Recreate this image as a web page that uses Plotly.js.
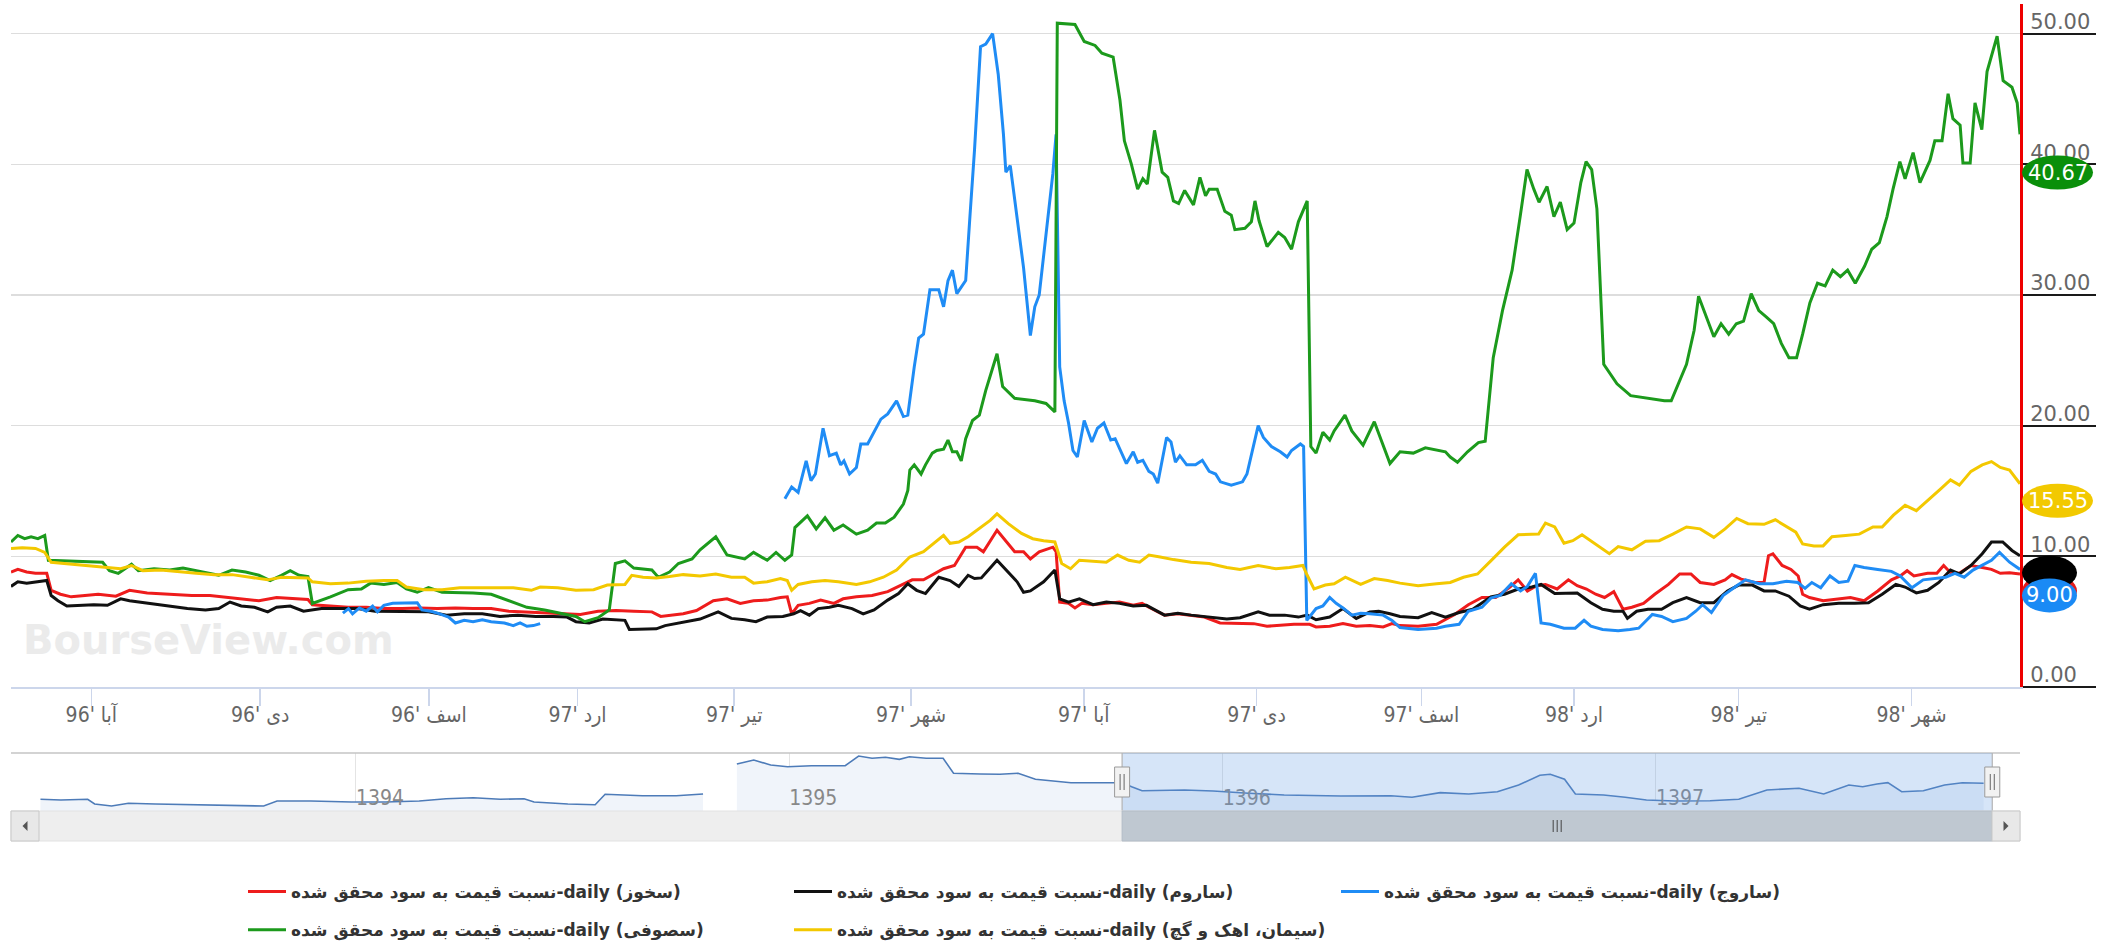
<!DOCTYPE html>
<html>
<head>
<meta charset="utf-8">
<script src="https://cdn.plot.ly/plotly-3.0.1.min.js"></script>
<style>
  html, body { margin: 0; padding: 0; background: #ffffff; }
  #chart { width: 2113px; height: 942px; }
</style>
</head>
<body>
<div id="chart"></div>
<script>
// ---- P/E (price to realized earnings), daily, by trading session ----
const sessionTicks = [20, 62, 104, 141, 180, 224, 267, 310, 351, 389, 430, 473];
const sessionTickText = ["آبا '96", "دی '96", "اسف '96", "ارد '97", "تیر '97", "شهر '97",
                         "آبا '97", "دی '97", "اسف '97", "ارد '98", "تیر '98", "شهر '98"];
const valueTicks = [0, 10, 20, 30, 40, 50];

const seriesNames = {
  red: "نسبت قیمت به سود محقق شده-daily (سخوز)",
  black: "نسبت قیمت به سود محقق شده-daily (ساروم)",
  blue: "نسبت قیمت به سود محقق شده-daily (ساروج)",
  green: "نسبت قیمت به سود محقق شده-daily (سصوفی)",
  yellow: "نسبت قیمت به سود محقق شده-daily (سیمان، اهک و گچ)"
};

const redDay = [0,1.7,3.9,6.1,8.9,10,12.3,15,18.4,21.7,26.1,29.5,33.9,37.3,41.7,45,49.5,52.8,57.3,61.7,66.1,70.6,73.9,75,79.5,83.9,88.4,92.8,97.3,101.7,106.1,110.6,115,119.5,123.9,128.4,132.8,137.2,141.7,146.1,150.6,155,159.5,161.7,163.9,167.3,170.6,174.8,178.2,181.5,184.8,188.2,191.5,193.2,194.3,195.9,198.7,201.5,204.8,207.1,210.4,214.3,218.2,221.5,224.3,227.1,229.3,232.1,234.8,237.6,240.4,242,245.4,247.6,249.8,252,253.7,255.9,259.3,260.1,261,263.2,264.8,266.5,269.3,272.6,275.9,279.3,281.5,283.2,287.1,290.4,293.7,297,300.9,304.8,309.3,312.6,315.9,319.3,323.2,324.8,328.2,331.5,334.8,338.2,341.5,343.7,345.7,350.2,354.8,359.3,362.7,366.1,369.5,372.9,375.1,377.4,379.7,381.9,384.8,387.6,389.8,392.1,394.4,396.6,398.9,401.2,403.4,406.3,409.1,412.5,415.3,418.1,420.4,423.8,426.6,428.3,430.6,434,436.3,437.4,438.5,440.8,443,444.8,445.9,447.6,451,454.4,457.8,461.2,464.6,468,470.2,471.9,473.6,477,479.3,481,482.7,484.9,487.8,490.6,492.9,495.1,497.4,500];
const redVal = [8.8,9,8.8,8.7,8.7,7.4,7.1,6.9,7,7.1,6.95,7.4,7.2,7.15,7.1,7,7,6.9,6.75,6.6,6.85,6.75,6.7,6.3,6.2,6.1,6.1,6,6,6.05,6,6.05,6,6,5.8,5.75,5.65,5.6,5.55,5.8,5.85,5.8,5.75,5.4,5.5,5.6,5.85,6.6,6.75,6.4,6.6,6.65,6.85,6.9,5.6,6.25,6.4,6.65,6.4,6.75,6.9,7,7.3,7.8,8.2,8.2,8.55,9.05,9.3,10.7,10.7,10.35,12,11.2,10.35,10.35,9.8,10.35,10.7,10.35,6.5,6.4,6.05,6.4,6.3,6.4,6.5,6.25,6.4,6.1,5.5,5.6,5.5,5.35,4.9,4.9,4.85,4.65,4.7,4.8,4.8,4.6,4.65,4.85,4.65,4.7,4.6,4.85,4.7,4.65,4.8,5.55,6.3,6.85,6.85,7.6,8.2,7.35,7.75,7.85,7.5,8.2,7.75,7.5,7.1,6.85,7.3,5.95,6.1,6.4,7.1,7.85,8.65,8.65,8,7.85,8.2,8.6,8.25,8,8,10.05,10.2,9.3,9,8.5,7.1,6.85,6.6,6.7,6.85,6.6,7.35,8.2,8.5,8.9,8.5,8.7,8.7,9.3,8.75,8.7,9.3,9.15,9,8.7,8.75,8.65];

const blackDay = [0,1.7,3.9,6.1,8.9,10,11.7,13.9,17.3,20.6,24,27.3,29.5,32.8,36.2,39.5,43.9,48.4,51.7,54.5,57.3,60.6,63.9,66.1,69.5,72.8,77.3,81.7,86.2,90.6,95,99.5,103.9,108.4,112.8,117.3,121.7,126.1,130.6,135,138.4,140.6,143.9,147.3,150.6,152.8,153.9,157.3,160.6,162.8,166.1,169.5,171.5,176,179.3,182.6,185.4,188.2,192.1,194.8,196.5,198.7,200.9,203.7,205.9,209.3,212.1,214.8,218.2,220.9,223.2,225.4,227.6,230.9,233.7,235.9,238.2,239.8,241.5,245.4,248.2,250.4,252,253.7,257,259.8,261,263.2,265.9,269.3,272.6,275.9,279.3,282.6,287.1,290.4,293.7,298.2,302.6,305.9,310.4,313.2,317,320.4,322.6,324.8,328.2,331.5,334.8,338.2,340.4,343.2,345.7,350.2,353.6,357,360.4,363.8,368.3,371.7,375.1,378.5,380.8,384.2,387.6,389.8,393.2,396.1,398.9,401.2,402.3,404.6,407.4,410.8,413.6,417,420.4,423.8,427.2,430,433.4,436.3,439.1,442.5,445.3,447.6,451,454.9,458.9,462.3,465.7,469.1,471.4,474.2,477,479.8,482.7,484.9,487.8,490.6,492.9,495.7,498,500];
const blackVal = [7.7,8.05,7.95,8.05,8.15,7,6.6,6.2,6.25,6.3,6.25,6.75,6.6,6.45,6.3,6.2,6,5.9,6,6.5,6.2,6.1,5.75,6.1,6.2,5.8,6,6,6,5.8,5.8,5.75,5.75,5.5,5.6,5.6,5.4,5.5,5.4,5.4,5.35,5,4.9,5.2,5.15,5.1,4.4,4.45,4.45,4.7,4.9,5.1,5.2,5.75,5.25,5.15,5,5.35,5.4,5.6,5.85,5.5,6,6.1,6.25,6,5.6,5.9,6.65,7.15,7.9,7.4,7.15,8.4,8.15,7.7,8.55,8.3,8.35,9.7,8.8,8.05,7.25,7.35,8.05,8.95,6.75,6.5,6.75,6.3,6.5,6.4,6.2,6.25,5.5,5.65,5.5,5.35,5.2,5.3,5.75,5.5,5.5,5.35,5.5,5.15,5.35,6,5.25,5.75,5.8,5.6,5.4,5.3,5.7,5.35,5.7,5.95,6.9,7.1,7.5,7.65,7.85,7.15,7.15,7.2,6.45,5.95,5.8,5.8,5.25,5.8,5.95,5.95,6.45,6.85,6.45,6.45,7.35,7.8,7.8,7.35,7.35,6.95,6.2,5.95,6.3,6.4,6.4,6.45,7.1,7.85,7.65,7.2,7.4,8,8.95,8.65,9.3,10.2,11.1,11.1,10.45,10.05];

const blueDay = [82.6,84,85,86.7,88.4,90,91.2,92.8,95,98.4,101.1,102.3,104.5,106.7,108.9,110.6,112.8,115,117.3,119.5,122.8,125,126.7,128.4,130,131.7,160,192.6,194.3,195.9,197.9,199.1,200.2,202.1,203.7,205.4,206.5,207.3,208.7,210.4,211.5,213.2,214.8,216.5,218.2,220.4,222.1,223.2,224.8,225.9,227.1,228.7,230.9,232.1,233.2,234.3,235.4,237.6,238.7,239.8,241.3,242.6,244.3,245.7,247,247.6,248.7,250.4,252,253.7,254.8,255.9,257.6,259.3,260.1,261,262.1,263.2,264.3,265.4,267.1,269,270.4,272,273.7,274.8,277.6,279.3,280.4,281.7,283.2,284.3,285.4,287.6,288.7,289.8,290.9,292.6,294.8,296.5,298.2,299.8,301,303.7,306.5,307.6,310.4,311.7,313.7,315.9,317.6,318.7,320.9,321.7,322.5,324.8,326.5,328.2,329.8,331.5,333.7,335.9,338.2,341.5,343.7,345.7,350.2,354.8,357,360.4,362.7,366.1,368.3,370.6,373.4,375.7,377.4,379.4,380.8,383.1,386.5,389.3,391.5,393.2,396.1,400,402.9,405.1,408.5,410.8,413.6,417,419.3,421,423.2,426.1,429.5,431.7,435.1,438.5,441.9,444.7,446.5,448.2,450.4,452.7,454.9,457.2,458.9,461.2,464.6,468,470.2,473.1,475.9,478.7,481.5,483.8,486.1,488.3,490.6,492.9,494.9,497.4,500];
const blueVal = [5.65,6,5.6,6.05,5.8,6.2,5.75,6.25,6.4,6.4,6.45,5.9,5.8,5.6,5.35,4.9,5.1,5,5.15,5,4.9,4.7,4.9,4.65,4.7,4.85,null,14.4,15.3,14.9,17.3,15.8,16.3,19.8,17.7,17.9,17,17.3,16.3,16.8,18.6,18.6,19.5,20.5,20.9,21.9,20.7,20.8,24.5,26.7,27,30.4,30.4,29.1,31.1,31.9,30.1,31.1,36.2,41.1,49,49.2,50,46.9,42.3,39.4,39.9,36,32.1,26.9,29.1,30,34.7,39.3,42.3,24.5,21.9,20.2,18.1,17.6,20.4,18.75,19.8,20.2,18.9,19,17.1,18,17.2,17.35,16.5,16.3,15.6,19.1,18.75,17.2,17.7,17,17,17.35,16.5,16.3,15.7,15.45,15.7,16.3,20,19.1,18.4,18,17.6,18.1,18.6,18.4,5.1,6,6.2,6.85,6.4,6.05,5.5,5.65,5.6,5.5,5.1,4.55,4.4,4.5,4.65,4.8,5.8,6.1,6.8,7,7.9,7.35,7.7,8.7,4.9,4.8,4.5,4.5,5.1,4.65,4.4,4.3,4.4,4.5,5.55,5.4,5,5.25,5.8,6.3,5.7,7,7.75,8.2,7.9,7.9,8.1,8,7.55,8,7.6,8.5,8,8.1,9.3,9.15,9,8.85,8.5,7.6,8.2,8.3,8.4,8.7,8.4,8.95,9.3,9.7,10.3,9.55,9];

const greenDay = [0,1.7,3.4,5,6.7,8.4,9.3,14,22.8,24.5,26.7,30,31.7,35.6,39.5,42.8,46.1,51.7,55,58.4,61.7,64.5,67.3,69.5,71.7,73.9,75,79.5,83.9,87.2,89.5,92.8,96.1,98.4,101.1,103.9,107.3,111.7,115,119.5,123.9,128.4,132.8,137.2,140.6,142.8,146.1,148.9,150.4,152.8,155,159.5,161.1,163.9,166.1,169.5,171.5,175.4,178.2,182.6,184.8,188.2,190.4,192.6,194.3,195.1,198.2,200.4,202.6,204.8,207.1,210.4,213.2,215.4,217.6,219.8,222.1,223.2,223.7,224.8,226.5,227.6,229.3,230.4,232.1,233.2,234.3,235.4,236.5,237.6,239.3,241,242.6,245.4,246.8,249.8,254.8,257.6,259.8,260.4,264.8,267.1,269.8,271.5,274.3,276,277.1,278.8,280.4,281.7,282.8,284.6,286.5,287.9,289.3,290.6,292.1,294.3,295.9,297.3,298.2,300.2,302.1,303.7,304.6,307.1,308.7,309.6,310.6,312.6,315.4,317,318.7,320.4,322.6,323.5,324.8,326.5,328.2,329.3,332,333.7,336.5,339.3,343.2,345.7,349,352,355,357,358.2,360,362.5,365.2,366.9,368.9,371.2,373.6,375.6,377.3,379,380.3,382.3,384,385.6,387.3,389,390.7,392,393.4,394.7,396.4,399.7,403.1,411.5,413.2,417,418.9,420,421.9,423.8,425.6,427.5,429.4,431.2,433.1,435,436.9,438.7,440.6,442.5,444.4,445.9,447.7,449.6,451.5,453.4,455.3,457.1,459,461.3,463.1,465,466.9,468.4,470.1,471.4,473.4,475.1,477.6,478.8,480.6,482.1,483.3,485.1,485.8,487.6,488.8,490.5,491.8,494.3,495.8,498,499.3,500];
const greenVal = [11.1,11.6,11.35,11.5,11.35,11.6,9.7,9.65,9.55,8.9,8.7,9.4,8.9,9.05,8.95,9.1,8.9,8.55,8.95,8.8,8.55,8.15,8.55,8.9,8.55,8.45,6.4,6.9,7.45,7.5,7.95,7.85,8,7.5,7.25,7.6,7.25,7.25,7.2,7.1,6.6,6.1,5.9,5.65,5.4,5,5.3,5.9,9.45,9.65,9.1,8.95,8.4,8.8,9.45,9.8,10.5,11.5,10.1,9.8,10.3,9.7,10.3,9.7,10.1,12.2,13.1,12.1,12.95,12,12.4,11.7,12,12.55,12.55,13,14,15.05,16.6,17,16.3,17,17.9,18.1,18.2,18.9,18,18,17.3,19,20.4,20.8,22.7,25.5,23,22.1,21.9,21.7,21.05,50.8,50.7,49.4,49.1,48.5,48.2,44.9,41.8,40.05,38.1,38.9,38.5,42.6,39.4,39,37.2,37,38,36.9,39,37.6,38.1,38.1,36.4,36.1,35,35.1,35.6,37.2,35.7,33.7,34.8,34.4,33.5,35.6,37.2,18.4,17.9,19.5,18.9,19.6,20.8,19.6,18.5,20.3,17.1,18,17.9,18.3,18.1,18,17.6,17.2,18,18.7,18.8,25.2,28.8,31.9,36,39.6,38.1,37.1,38.3,36,37.1,35,35.5,38.6,40.2,39.6,36.6,24.7,23.2,22.3,21.9,21.9,24.7,27.3,29.9,28.3,26.8,27.8,27,27.8,28,30.1,28.8,28.3,27.8,26.3,25.2,25.2,27,29.4,30.9,30.7,31.9,31.4,31.9,30.9,32.2,33.5,34,36,38.1,40.2,38.9,40.9,38.6,40.3,41.8,41.8,45.4,43.5,43,40.1,40.1,44.7,42.65,47.1,49.8,46.4,45.9,44.7,42.3,40.67];

const yellowDay = [0,2.8,6.1,8.4,10,13.9,19.5,24,27.3,30,32.8,37.3,41.7,46.1,50.6,55,59.5,63.9,67.3,69.5,73.9,75,79.5,83.9,88.4,92.8,96.1,98.4,102.8,107.3,111.7,116.2,120.6,125,129.5,131.7,136.1,140.6,145,148.4,152.8,154.5,157.3,160.6,163.9,167.3,171.5,175.4,179.3,182.6,184.8,188.2,191.5,193.2,194.3,195.9,199.3,202.6,205.9,210.4,213.7,217.1,220.4,223.7,227.1,229.8,232.1,233.7,235.9,238.2,241.5,243.7,245.4,248.2,251.5,254.3,257,259.8,261.5,263.7,265.9,269.3,272.6,275.4,278.2,280.9,283.2,286,289.3,293.7,298.2,302.6,305.9,310.4,314.8,318.2,321.5,322.6,324.3,327.1,329.3,332.1,333.7,335.9,339.3,342.6,345.7,350.2,354.8,358.2,361.5,365,368.3,371.7,375.1,378.5,380.2,381.9,384.2,386.5,388.7,391,393.2,396.1,397.8,400,403.4,406.8,410.2,413.6,417,420.4,423.8,426.6,429.5,432.3,436.3,439.1,441.9,444.2,445.9,448.7,451,453.2,456.6,460,463.4,465.7,468.5,471.4,474.2,477.6,480.4,482.7,484.9,487.8,490.6,492.9,495.1,497.4,500];
const yellowVal = [10.6,10.65,10.6,10.3,9.55,9.45,9.3,9.15,9.05,9.3,8.9,8.95,8.8,8.7,8.6,8.6,8.4,8.2,8.4,8.4,8.35,8.05,7.9,7.95,8.1,8.15,8.15,7.65,7.45,7.45,7.6,7.6,7.6,7.6,7.4,7.65,7.6,7.4,7.45,7.8,7.85,8.55,8.4,8.35,8.45,8.6,8.5,8.65,8.4,8.4,7.95,8.05,8.3,8.15,7.4,7.85,8.05,8.15,8.05,7.85,8.05,8.4,8.95,9.95,10.35,11,11.6,11,11.1,11.5,12.25,12.75,13.25,12.5,11.75,11.35,11.2,11.1,9.45,9.05,9.7,9.65,9.55,10.1,9.7,9.55,10.1,9.95,9.75,9.55,9.45,9.15,9,9.3,9.05,9.15,9.3,8.55,7.5,7.8,7.9,8.4,8.15,7.85,8.3,8.15,7.95,7.75,7.9,8,8.4,8.65,9.65,10.7,11.65,11.7,11.7,12.55,12.25,11,11.2,11.65,11.2,10.55,10.2,10.75,10.5,11.15,11.2,11.7,12.25,12.1,11.45,12.1,12.9,12.5,12.45,12.8,12.25,11.85,10.95,10.8,10.8,11.5,11.6,11.7,12.25,12.25,13.15,13.9,13.5,14.4,15.2,15.85,15.45,16.5,17,17.25,16.8,16.6,15.55];

// ---- navigator: whole history, in years (two separate runs of data) ----
const navYearA = [1393.272,1393.319,1393.381,1393.397,1393.436,1393.475,1393.537,1393.647,1393.740,1393.787,1393.818,1393.896,1393.990,1394.068,1394.146,1394.208,1394.271,1394.333,1394.388,1394.411,1394.489,1394.552,1394.575,1394.661,1394.739,1394.801];
const navLevelA = [20.2,19.0,20.2,12.1,8.6,13.3,12.1,10.3,8.6,8.6,17.2,17.2,15.5,15.5,17.2,21.2,22.9,20.2,21.2,15.5,12.1,10.9,28.8,26.4,26.4,29.3];
const navYearB = [1394.879,1394.918,1394.957,1394.996,1395.051,1395.129,1395.160,1395.191,1395.222,1395.254,1395.277,1395.316,1395.355,1395.379,1395.441,1395.486,1395.528,1395.568,1395.650,1395.732,1395.768,1395.790,1395.814,1395.912,1395.978,1396.060,1396.142,1396.273,1396.388,1396.437,1396.502,1396.568,1396.634,1396.683,1396.732,1396.756,1396.789,1396.814,1396.879,1396.929,1396.978,1397.043,1397.125,1397.191,1397.256,1397.330,1397.387,1397.445,1397.477,1397.510,1397.535,1397.567,1397.617,1397.666,1397.707,1397.756];
const navLevelB = [81.0,87.9,79.3,76.4,78.1,78.1,94.8,90.9,92.6,89.1,93.6,90.9,90.9,65.0,63.8,63.3,65.0,54.7,48.8,48.8,48.8,41.9,35.0,36.2,34.5,30.5,27.6,25.9,26.4,23.6,31.6,29.3,33.3,44.8,61.6,63.3,54.7,29.3,27.6,23.6,19.0,17.2,17.8,20.2,36.2,39.1,29.3,44.8,41.9,46.6,48.8,33.3,35.0,44.8,48.8,47.8];
const navYearTicks = [1394, 1395, 1396, 1397];
const navWindow = [1395.768, 1397.776];

// ---- colours ----
const colors = { red: '#ee1c1c', black: '#111111', blue: '#1f8cf5', green: '#1c9a1c', yellow: '#f3c800' };
const badgeColors = { red: '#e31b1b', black: '#000000', blue: '#1a8af5', green: '#0a8f0a', yellow: '#f2c900' };

// Page geometry (px) used to place the sub-panels in paper space
const W = 2113, H = 942, mL = 11, mR = 93, mT = 4, mB = 100;
const plotW = W - mL - mR, plotH = H - mT - mB;
const py = y => (H - mB - y) / plotH;     // page y -> paper y
const px = x => (x - mL) / plotW;         // page x -> paper x

function line(day, val, key, legendId, group) {
  return {
    type: 'scatter', mode: 'lines', x: day, y: val, name: seriesNames[key],
    line: { color: colors[key], width: 3 }, connectgaps: false,
    legend: legendId, legendgroup: group, xaxis: 'x', yaxis: 'y', hoverinfo: 'skip'
  };
}

function navRun(xs, ys) {
  return {
    type: 'scatter', mode: 'lines', x: xs, y: ys, xaxis: 'x2', yaxis: 'y2',
    line: { color: '#4d7bb8', width: 1.6 }, fill: 'tozeroy', fillcolor: '#f0f4fa',
    showlegend: false, hoverinfo: 'skip'
  };
}

const traces = [
  line(redDay, redVal, 'red', 'legend', 'g1'),
  line(blackDay, blackVal, 'black', 'legend2', 'g2'),
  line(blueDay, blueVal, 'blue', 'legend3', 'g3'),
  line(greenDay, greenVal, 'green', 'legend', 'g4'),
  line(yellowDay, yellowVal, 'yellow', 'legend2', 'g5'),
  navRun(navYearA, navLevelA),
  navRun(navYearB, navLevelB)
];

// last values for the end-of-line badges
const last = arr => { for (let i = arr.length - 1; i >= 0; i--) if (arr[i] != null) return arr[i]; };
const lastVals = { red: last(redVal), black: last(blackVal), blue: last(blueVal), green: last(greenVal), yellow: last(yellowVal) };

// badge geometry: [top offset below the value (px), width (px)]
const badgeGeom = { yellow: [0, 73], green: [0, 73], red: [0, 57], black: [0, 57], blue: [9, 57] };
const badgeOrder = ['yellow', 'green', 'red', 'black', 'blue'];
const badgeTextShown = ['yellow', 'green', 'blue'];

function badgeShape(key) {
  const [off, w] = badgeGeom[key];
  return {
    type: 'circle', xref: 'paper', yref: 'y', xsizemode: 'pixel', ysizemode: 'pixel',
    xanchor: 1, x0: 2, x1: w, yanchor: lastVals[key], y0: -off - 34, y1: -off,
    fillcolor: badgeColors[key], line: { width: 0 }, layer: 'above'
  };
}
function badgeText(key) {
  const [off, w] = badgeGeom[key];
  return {
    xref: 'paper', yref: 'y', x: 1, y: lastVals[key], xanchor: 'center', yanchor: 'middle',
    xshift: (2 + w) / 2, yshift: -off - 17, showarrow: false,
    text: lastVals[key].toFixed(2), font: { family: 'DejaVu Sans', size: 21, color: '#ffffff' }
  };
}

const navBottom = py(811), navTop = py(753), sbTop = py(811), sbBottom = py(841);
const handleLo = py(797), handleHi = py(767);
const shapes = [
  // watermark
  { type: 'rect', xref: 'paper', yref: 'paper', x0: px(20), x1: px(420), y0: py(656), y1: py(618),
    line: { width: 0 }, fillcolor: 'rgba(0,0,0,0)', layer: 'below',
    label: { text: 'BourseView.com', textposition: 'middle left', padding: 0,
             font: { family: 'DejaVu Sans', weight: 'bold', size: 40, color: '#ebebeb' } } },
  // badges
  ...badgeOrder.map(badgeShape),
  // navigator outline and window
  { type: 'line', xref: 'paper', yref: 'paper', x0: 0, x1: 1, y0: navTop, y1: navTop, line: { color: '#c4c4c4', width: 1.5 } },
  { type: 'rect', xref: 'x2', yref: 'paper', x0: navWindow[0], x1: navWindow[1], y0: navBottom, y1: navTop,
    fillcolor: 'rgba(96,156,228,0.26)', line: { width: 0 } },
  { type: 'line', xref: 'x2', yref: 'paper', x0: navWindow[0], x1: navWindow[0], y0: navBottom, y1: navTop, line: { color: '#b4b4b4', width: 1.2 } },
  { type: 'line', xref: 'x2', yref: 'paper', x0: navWindow[1], x1: navWindow[1], y0: navBottom, y1: navTop, line: { color: '#b4b4b4', width: 1.2 } },
  // scrollbar track, buttons, thumb
  { type: 'rect', xref: 'paper', yref: 'paper', x0: 0, x1: 1, y0: sbBottom, y1: sbTop, fillcolor: '#eeeeee', line: { color: '#e2e2e2', width: 1 } },
  { type: 'rect', xref: 'x2', yref: 'paper', x0: navWindow[0], x1: navWindow[1], y0: sbBottom, y1: sbTop, fillcolor: '#bfc8d1', line: { color: '#b3bcc6', width: 1 } },
  { type: 'rect', xref: 'paper', yref: 'paper', x0: 0, x1: px(39), y0: sbBottom, y1: sbTop, fillcolor: '#e8e8e8', line: { color: '#c8c8c8', width: 1 } },
  { type: 'rect', xref: 'paper', yref: 'paper', x0: px(1992), x1: 1, y0: sbBottom, y1: sbTop, fillcolor: '#e8e8e8', line: { color: '#c8c8c8', width: 1 } },
  { type: 'path', xref: 'paper', yref: 'paper', xsizemode: 'pixel', xanchor: px(25), path: `M2.5,${py(821)} L-2.5,${py(826)} L2.5,${py(831)} Z`, fillcolor: '#555555', line: { width: 0 } },
  { type: 'path', xref: 'paper', yref: 'paper', xsizemode: 'pixel', xanchor: px(2006), path: `M-2.5,${py(821)} L2.5,${py(826)} L-2.5,${py(831)} Z`, fillcolor: '#555555', line: { width: 0 } },
  { type: 'path', xref: 'x2', yref: 'paper', xsizemode: 'pixel', xanchor: (navWindow[0] + navWindow[1]) / 2,
    path: `M-4,${py(820)} L-4,${py(832)} M0,${py(820)} L0,${py(832)} M4,${py(820)} L4,${py(832)}`, line: { color: '#444444', width: 1 } },
  // window handles
  ...navWindow.map(v => ({ type: 'rect', xref: 'x2', yref: 'paper', xsizemode: 'pixel', xanchor: v, x0: -7.5, x1: 7.5,
    y0: handleLo, y1: handleHi, fillcolor: '#f2f2f2', line: { color: '#9a9a9a', width: 1 } })),
  ...navWindow.map(v => ({ type: 'path', xref: 'x2', yref: 'paper', xsizemode: 'pixel', xanchor: v,
    path: `M-2,${py(774)} L-2,${py(790)} M2,${py(774)} L2,${py(790)}`, line: { color: '#666666', width: 1 } }))
];

const legendCommon = {
  orientation: 'v', xanchor: 'left', yanchor: 'top', bgcolor: 'rgba(0,0,0,0)', borderwidth: 0,
  itemwidth: 38, tracegroupgap: 13, traceorder: 'grouped',
  font: { family: 'DejaVu Sans', size: 17, color: '#333333', weight: 'bold' }
};

const layout = {
  width: W, height: H, margin: { l: mL, r: mR, t: mT, b: mB, pad: 0, autoexpand: false },
  paper_bgcolor: '#ffffff', plot_bgcolor: 'rgba(0,0,0,0)',
  font: { family: 'DejaVu Sans', color: '#333333' },
  showlegend: true,
  xaxis: {
    domain: [0, 1], anchor: 'y', range: [0, 500], tickmode: 'array',
    tickvals: sessionTicks, ticktext: sessionTickText,
    ticks: 'outside', ticklen: 17, tickwidth: 1.5, tickcolor: '#ccd6eb',
    ticklabelstandoff: -9,
    showline: true, linecolor: '#ccd6eb', linewidth: 2, showgrid: false, zeroline: false,
    tickfont: { family: 'Liberation Sans Narrow, DejaVu Sans Condensed, DejaVu Sans', size: 21, color: '#666666' }
  },
  yaxis: {
    domain: [py(687), 1], anchor: 'x', side: 'right', range: [0, 52.27],
    tickmode: 'array', tickvals: valueTicks, tickformat: '.2f',
    showline: true, linecolor: '#ee0000', linewidth: 3,
    ticks: 'outside', ticklen: 73, tickwidth: 2, tickcolor: '#1a1a1a',
    ticklabelstandoff: -70, ticklabelshift: -12,
    showgrid: true, gridcolor: '#dddddd', gridwidth: 1.5, zeroline: false,
    tickfont: { family: 'DejaVu Sans', size: 21, color: '#666666' }
  },
  xaxis2: {
    domain: [0, 1], anchor: 'y2', range: [1393.204, 1397.840], tickmode: 'array',
    tickvals: navYearTicks, ticktext: navYearTicks.map(String),
    ticks: '', showline: false, zeroline: false, showgrid: true, gridcolor: '#e4e4e4', gridwidth: 1,
    ticklabelposition: 'inside right', ticklabelstandoff: -4,
    tickfont: { family: 'Liberation Sans Narrow, DejaVu Sans Condensed, DejaVu Sans', size: 21, color: '#888888' }
  },
  yaxis2: { domain: [navBottom, navTop], anchor: 'x2', range: [0, 100], visible: false, showgrid: false, zeroline: false },
  legend: Object.assign({}, legendCommon, { x: px(243), y: py(874) }),
  legend2: Object.assign({}, legendCommon, { x: px(789), y: py(874) }),
  legend3: Object.assign({}, legendCommon, { x: px(1336), y: py(874) }),
  shapes: shapes,
  annotations: badgeTextShown.map(badgeText)
};

Plotly.newPlot('chart', traces, layout, { staticPlot: true, displayModeBar: false });
</script>
</body>
</html>
